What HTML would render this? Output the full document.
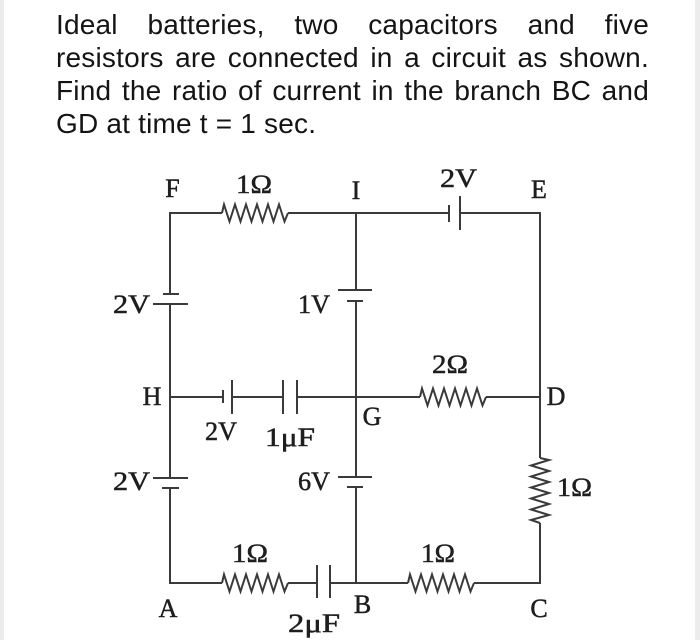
<!DOCTYPE html>
<html>
<head>
<meta charset="utf-8">
<style>
  html, body { margin:0; padding:0; }
  body { width:700px; height:640px; background:#ffffff; position:relative; overflow:hidden; }
  .edgeL { position:absolute; left:0; top:0; width:4px; height:640px; background:#ececec; }
  .edgeR { position:absolute; right:0; top:0; width:5px; height:640px; background:#ececec; }
  .ln { position:absolute; left:56px; font-family:"Liberation Sans", Arial, sans-serif; font-size:28px; line-height:28px; color:#141414; letter-spacing:0.2px; white-space:nowrap; }
  .j { width:593px; display:flex; justify-content:space-between; }
  svg { position:absolute; left:0; top:0; }
  .lbl { font-family:"Liberation Serif", "Times New Roman", serif; font-size:26px; fill:#1e1e1e; stroke:#1e1e1e; stroke-width:0.5px; }
</style>
</head>
<body>
<div class="edgeL"></div>
<div class="edgeR"></div>

<div class="ln j" style="top:10.5px;"><span>Ideal</span><span>batteries,</span><span>two</span><span>capacitors</span><span>and</span><span>five</span></div>
<div class="ln j" style="top:44px;"><span>resistors</span><span>are</span><span>connected</span><span>in</span><span>a</span><span>circuit</span><span>as</span><span>shown.</span></div>
<div class="ln j" style="top:77px;"><span>Find</span><span>the</span><span>ratio</span><span>of</span><span>current</span><span>in</span><span>the</span><span>branch</span><span>BC</span><span>and</span></div>
<div class="ln" style="top:110px;">GD at time t = 1 sec.</div>

<svg width="700" height="640" viewBox="0 0 700 640" xmlns="http://www.w3.org/2000/svg">
  <g stroke="#3a3a3a" stroke-width="2" fill="none" stroke-linecap="butt" stroke-linejoin="miter">
    <!-- top wire -->
    <polyline points="170,294 170,213 222,213"/>
    <polyline points="222,213 224,204.5 229.5,221.5 235,204.5 240.5,221.5 246,204.5 251.5,221.5 257,204.5 262.5,221.5 268,204.5 273.5,221.5 279,204.5 284.5,221.5 288,213"/>
    <line x1="288" y1="213" x2="449" y2="213"/>
    <line x1="449" y1="205" x2="449" y2="222"/>
    <line x1="460" y1="196" x2="460" y2="230"/>
    <polyline points="460,213 540,213 540,458"/>
    <!-- left upper battery -->
    <line x1="163" y1="294" x2="179" y2="294"/>
    <line x1="153" y1="304" x2="188" y2="304"/>
    <line x1="170" y1="304" x2="170" y2="478"/>
    <!-- left lower battery -->
    <line x1="153" y1="478" x2="188" y2="478"/>
    <line x1="162" y1="488" x2="179" y2="488"/>
    <polyline points="170,488 170,583 222,583"/>
    <!-- middle vertical -->
    <line x1="356" y1="213" x2="356" y2="290"/>
    <line x1="338" y1="290" x2="372" y2="290"/>
    <line x1="347" y1="301" x2="363" y2="301"/>
    <line x1="356" y1="301" x2="356" y2="477"/>
    <line x1="338" y1="477" x2="372" y2="477"/>
    <line x1="347" y1="487" x2="363" y2="487"/>
    <line x1="356" y1="487" x2="356" y2="583"/>
    <!-- HG branch -->
    <line x1="170" y1="397" x2="223" y2="397"/>
    <line x1="223" y1="390" x2="223" y2="403"/>
    <line x1="232" y1="380" x2="232" y2="414"/>
    <line x1="232" y1="397" x2="283" y2="397"/>
    <line x1="283" y1="380" x2="283" y2="414"/>
    <line x1="297" y1="380" x2="297" y2="414"/>
    <line x1="297" y1="397" x2="420" y2="397"/>
    <polyline points="420,397 422,388.5 427.5,405.5 433,388.5 438.5,405.5 444,388.5 449.5,405.5 455,388.5 460.5,405.5 466,388.5 471.5,405.5 477,388.5 482.5,405.5 486,397"/>
    <line x1="486" y1="397" x2="540" y2="397"/>
    <!-- right vertical resistor -->
    <polyline points="540,458 549,460 531,465.5 549,471 531,476.5 549,482 531,487.5 549,493 531,498.5 549,504 531,509.5 549,515 531,520 540,523"/>
    <polyline points="540,523 540,583 474,583"/>
    <!-- bottom wire -->
    <polyline points="222,583 224,574.5 229.5,591.5 235,574.5 240.5,591.5 246,574.5 251.5,591.5 257,574.5 262.5,591.5 268,574.5 273.5,591.5 279,574.5 284.5,591.5 288,583"/>
    <line x1="288" y1="583" x2="317" y2="583"/>
    <line x1="317" y1="565" x2="317" y2="598"/>
    <line x1="330" y1="565" x2="330" y2="598"/>
    <line x1="330" y1="583" x2="408" y2="583"/>
    <polyline points="408,583 410,574.5 415.5,591.5 421,574.5 426.5,591.5 432,574.5 437.5,591.5 443,574.5 448.5,591.5 454,574.5 459.5,591.5 465,574.5 470.5,591.5 474,583"/>
  </g>

  <g class="lbl">
    <text x="172.5" y="197" text-anchor="middle">F</text>
    <text x="236" y="193" textLength="36" lengthAdjust="spacingAndGlyphs">1Ω</text>
    <text x="356" y="199" text-anchor="middle">I</text>
    <text x="440" y="187" textLength="37" lengthAdjust="spacingAndGlyphs">2V</text>
    <text x="539" y="198" text-anchor="middle">E</text>
    <text x="113" y="313" textLength="37" lengthAdjust="spacingAndGlyphs">2V</text>
    <text x="298" y="313" textLength="32" lengthAdjust="spacingAndGlyphs">1V</text>
    <text x="152" y="405" text-anchor="middle">H</text>
    <text x="205" y="440" textLength="32" lengthAdjust="spacingAndGlyphs">2V</text>
    <text x="265" y="446" textLength="50" lengthAdjust="spacingAndGlyphs">1μF</text>
    <text x="372" y="425" text-anchor="middle">G</text>
    <text x="432" y="373" textLength="36" lengthAdjust="spacingAndGlyphs">2Ω</text>
    <text x="556" y="405" text-anchor="middle">D</text>
    <text x="113" y="490" textLength="37" lengthAdjust="spacingAndGlyphs">2V</text>
    <text x="298" y="490" textLength="32" lengthAdjust="spacingAndGlyphs">6V</text>
    <text x="557" y="496" textLength="35" lengthAdjust="spacingAndGlyphs">1Ω</text>
    <text x="232" y="562" textLength="36" lengthAdjust="spacingAndGlyphs">1Ω</text>
    <text x="421" y="562" textLength="34" lengthAdjust="spacingAndGlyphs">1Ω</text>
    <text x="168" y="617" text-anchor="middle">A</text>
    <text x="362.5" y="613" text-anchor="middle">B</text>
    <text x="288" y="632" textLength="52" lengthAdjust="spacingAndGlyphs">2μF</text>
    <text x="539" y="617" text-anchor="middle">C</text>
  </g>
</svg>
</body>
</html>
